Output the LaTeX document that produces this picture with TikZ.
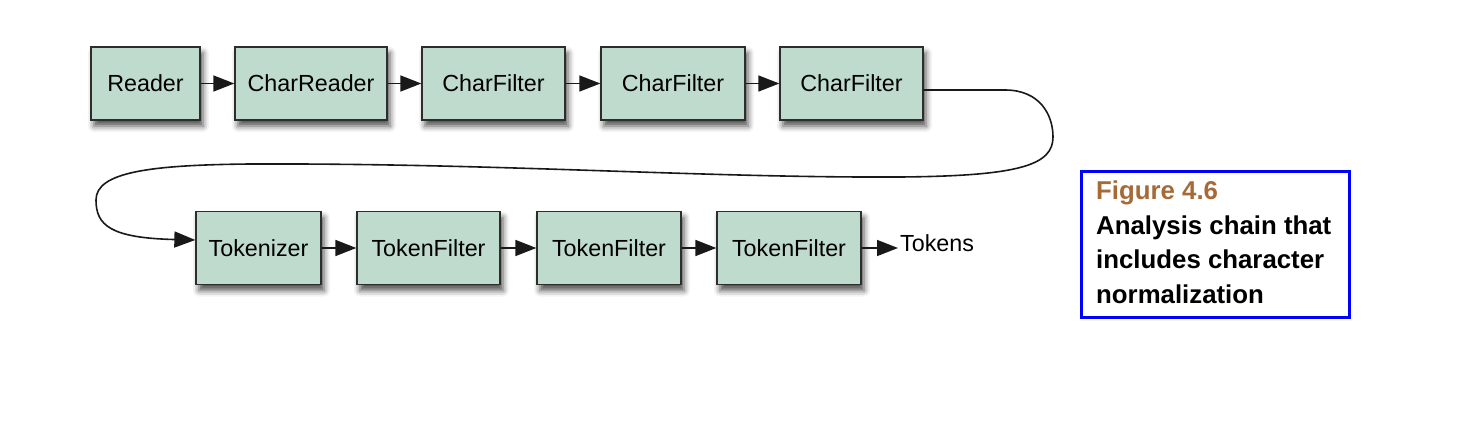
\documentclass[tikz,border=0pt]{standalone}
\usepackage{fontspec}
\setmainfont{Liberation Sans}
\usetikzlibrary{arrows.meta,shadows.blur,calc}
\definecolor{boxfill}{RGB}{191,219,205}
\definecolor{boxline}{RGB}{45,45,45}
\definecolor{figbrown}{RGB}{166,106,55}
\definecolor{capblue}{RGB}{0,0,255}
\tikzset{
  stagebox/.style={draw=boxline, line width=1.3pt, fill=boxfill, minimum height=73pt,
    inner sep=0pt, font=\fontsize{23.3}{27}\selectfont,
    blur shadow={shadow xshift=3pt, shadow yshift=-6pt, shadow blur radius=6pt, shadow opacity=70}},
  flow/.style={draw=black!90, line width=1.6pt, -{Triangle[length=21pt,width=16pt]}},
  loopline/.style={draw=black!90, line width=1.6pt, -{Triangle[length=21pt,width=16pt]}},
  captext/.style={anchor=base west, inner sep=0pt, font=\fontsize{25.8}{30}\selectfont\bfseries}
}
\begin{document}
\begin{tikzpicture}[x=1pt,y=-1pt]
\useasboundingbox (0,0) rectangle (1464,436);
\node[stagebox, minimum width=109pt] (reader) at (145.5,83.5) {Reader};
\node[stagebox, minimum width=152pt] (creader) at (311,83.5) {CharReader};
\node[stagebox, minimum width=143pt] (cf1) at (493.5,83.5) {CharFilter};
\node[stagebox, minimum width=144pt] (cf2) at (673,83.5) {CharFilter};
\node[stagebox, minimum width=143pt] (cf3) at (851.5,83.5) {CharFilter};
\node[stagebox, minimum width=125pt] (tok) at (258.5,248) {Tokenizer};
\node[stagebox, minimum width=143pt] (tf1) at (428.5,248) {TokenFilter};
\node[stagebox, minimum width=144pt] (tf2) at (609,248) {TokenFilter};
\node[stagebox, minimum width=144pt] (tf3) at (789,248) {TokenFilter};
\node[anchor=west, inner sep=0pt, font=\fontsize{23.3}{27}\selectfont] (tokens) at (900,243) {Tokens};

\draw[flow] (reader) -- (creader);
\draw[flow] (creader) -- (cf1);
\draw[flow] (cf1) -- (cf2);
\draw[flow] (cf2) -- (cf3);
\draw[flow] (tok) -- (tf1);
\draw[flow] (tf1) -- (tf2);
\draw[flow] (tf2) -- (tf3);
\draw[flow] (tf3.east) -- ([xshift=-2pt]tf3.east -| tokens.west);

\draw[loopline] ($(cf3.east)+(0,6.5)$) -- (1005,90)
  .. controls (1040,90) and (1053,115) .. (1053,137)
  .. controls (1053,165) and (1020,176) .. (900,177)
  .. controls (700,178) and (500,163) .. (250,164)
  .. controls (150,165) and (96,172) .. (96,200)
  .. controls (96,225) and (110,238) .. ($(tok.west)+(0,-8)$);

\draw[draw=capblue, line width=3pt] (1081,171) rectangle (1349,317);
\node[captext, text=figbrown] (cap1) at (1096,199) {Figure 4.6};
\node[captext] (cap2) at (1096,234) {Analysis chain that};
\node[captext] (cap3) at (1096,268.5) {includes character};
\node[captext] (cap4) at (1096,303) {normalization};
\end{tikzpicture}
\end{document}
